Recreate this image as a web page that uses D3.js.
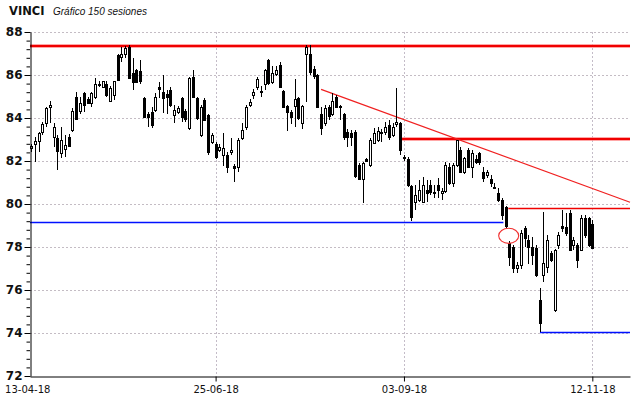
<!DOCTYPE html>
<html>
  <head>
    <meta charset="utf-8">
    <script src="https://cdn.jsdelivr.net/npm/d3@7"></script>
    <style>
      body { margin: 0; background: #fff; }
    </style>
  </head>
  <body>
    <script>

      // daily sessions (150)
      var opens = [82.6,82.8,82.95,83.35,83.75,84.5,83.13,83.05,82.35,82.55,83.13,83.44,85.0,84.34,85.15,84.9,84.68,84.96,85.6,85.46,
        85.57,84.79,85.07,86.93,86.85,87.0,87.3,86.08,86.23,86.2,84.93,84.2,84.3,84.37,85.46,85.22,85.1,85.3,84.14,84.29,
        84.91,84.33,83.52,85.92,84.91,83.21,84.84,84.14,82.9,82.79,82.51,82.28,82.28,82.4,81.77,81.74,83.06,83.6,84.6,85.07,
        85.46,85.19,85.58,86.7,85.69,86.05,86.47,85.27,84.56,84.29,84.56,84.91,83.75,86.98,87.0,86.3,86.0,84.2,83.75,84.5,
        84.2,84.99,84.55,84.2,83.35,83.3,83.35,81.8,81.15,82.1,81.8,82.85,83.0,83.36,83.36,83.67,83.2,83.7,83.75,82.2,
        82.1,80.84,80.1,80.19,80.11,80.65,80.88,80.5,80.88,80.5,80.6,81.74,81.0,81.81,82.51,81.5,82.51,81.74,82.1,82.36,
        81.5,81.35,81.15,80.81,80.5,80.19,79.88,78.17,78.02,77.01,77.16,78.87,78.33,78.02,77.94,75.53,76.7,77.09,77.71,75.07,
        78.09,78.98,78.95,79.57,78.09,78.09,77.86,79.33,79.33,79.05];
      var highs = [82.8,83.1,83.36,83.83,84.53,84.8,83.75,83.2,83.57,83.2,83.25,84.45,85.2,85.0,85.2,85.0,85.23,85.84,85.7,85.74,
        85.74,85.5,85.74,87.0,87.3,87.35,87.4,86.78,86.3,86.7,85.0,84.3,84.53,85.15,85.69,86.0,85.3,85.46,84.6,84.55,
        85.0,84.4,85.92,86.23,85.0,84.6,84.93,84.2,83.3,82.9,82.8,83.3,82.4,83.06,81.85,83.06,83.75,84.6,84.9,85.35,
        85.9,85.5,86.3,86.75,86.4,86.4,86.6,85.3,84.6,84.35,85.8,85.0,84.6,87.4,87.4,86.4,86.05,84.5,84.6,84.6,
        85.15,85.05,84.6,84.25,83.5,83.45,83.45,81.9,81.95,82.15,83.05,83.55,83.6,83.5,83.8,83.9,83.75,85.38,83.8,82.3,
        82.2,80.9,80.88,81.12,81.27,81.12,81.12,80.88,81.19,80.73,81.97,81.9,81.89,83.0,82.67,82.2,82.6,82.51,82.3,82.43,
        81.74,81.58,81.35,81.0,80.73,80.26,79.9,78.3,78.1,77.3,78.8,79.0,78.56,78.48,78.1,76.08,79.64,78.56,77.8,77.9,
        78.7,79.72,79.57,79.72,78.48,78.2,79.49,79.49,79.4,79.26];
      var lows = [82.4,81.97,82.43,83.2,83.6,83.75,82.66,81.6,82.12,82.2,82.65,83.36,83.9,84.2,84.3,84.7,84.53,84.9,85.45,85.4,
        85.0,84.75,84.85,85.7,86.6,86.8,85.8,85.3,85.62,85.6,84.0,83.6,83.52,84.29,84.91,84.22,84.2,84.53,83.75,84.2,
        83.83,83.8,83.45,84.95,83.9,83.1,83.85,82.3,82.8,82.1,82.4,81.75,81.45,82.3,81.04,81.5,83.0,83.44,84.53,84.9,
        85.3,85.0,85.3,85.55,85.6,85.95,85.4,84.5,83.4,83.7,83.6,83.9,83.5,84.76,86.0,85.8,84.5,83.2,83.65,83.9,
        84.1,84.45,83.9,83.0,82.65,82.7,81.2,81.1,80.05,81.95,81.7,82.8,82.9,82.9,83.2,83.0,83.1,83.6,82.3,82.0,
        80.8,79.2,79.72,80.1,80.1,80.11,80.4,80.3,80.26,80.19,80.5,80.9,80.8,81.7,81.46,81.4,81.7,81.19,81.85,81.8,
        81.04,81.19,80.8,80.7,80.11,79.26,78.9,77.1,76.8,76.8,77.0,78.0,77.2,77.16,76.6,74.06,76.39,76.78,77.3,74.99,
        77.9,78.71,78.5,77.86,77.86,77.01,77.8,78.4,78.0,77.94];
      var closes = [82.7,82.95,83.3,83.7,84.48,84.6,83.57,82.48,83.0,82.75,82.7,84.34,83.95,84.7,84.6,84.72,85.15,85.57,85.53,85.7,
        85.07,85.38,85.7,85.75,87.0,87.24,85.85,85.69,85.69,85.7,84.06,84.06,83.67,84.99,85.33,84.91,85.0,84.6,84.37,84.45,
        84.06,83.94,85.85,84.99,83.98,84.53,83.91,82.4,83.21,82.17,82.64,82.59,81.74,82.5,81.66,82.98,83.44,84.53,84.76,85.22,
        85.8,85.27,86.23,85.61,86.08,86.23,85.46,84.53,84.29,84.06,84.87,83.98,84.56,87.32,86.16,85.95,84.53,83.55,84.45,84.1,
        84.8,84.5,84.5,83.13,83.13,83.1,81.3,81.15,81.9,82.0,82.98,83.29,83.4,83.29,83.6,83.13,83.6,83.8,82.51,82.12,
        80.9,79.4,80.42,80.65,80.88,80.5,80.57,80.57,80.65,80.6,81.81,80.96,81.81,82.98,81.5,82.12,81.74,82.36,81.95,81.97,
        81.19,81.5,80.96,80.78,80.19,79.49,78.98,77.55,77.01,77.16,78.64,78.4,78.02,77.63,76.7,74.45,77.24,78.33,77.4,77.86,
        78.56,78.87,78.64,77.86,78.33,77.4,79.33,78.56,78.09,77.97];

      // axis labels
      var dateLabels = ["13-04-18", "25-06-18", "03-09-18", "12-11-18"];
      var dateIdx = [-1, 49, 99, 149];
      var priceTicks = [72, 74, 76, 78, 80, 82, 84, 86, 88];

      // drawn levels: price, first session, last session
      var redLevels = [87.35, 83.02, 79.8];
      var redFrom = [-0.27, 98.4, 126.7];
      var blueLevels = [79.15, 74.03];
      var blueFrom = [-0.27, 135.1];
      var blueTo = [125.4, 159];
      // trend line (session, price) and circle marker
      var trendIdx = [77, 159];
      var trendPrice = [85.33, 80.08];
      var markIdx = 126.8, markPrice = 78.52, markRx = 2.66, markRy = 0.35;

      var W = 640, H = 398;
      var plotL = 30, plotR = 630, plotT = 32, plotB = 376;

      var svg = d3.select("body")
        .append("svg")
        .attr("width", W)
        .attr("height", H)
        .style("font-family", "'DejaVu Sans', sans-serif");

      var x = d3.scaleLinear()
        .domain([-0.265, 159])
        .range([plotL, plotR]);

      var y = d3.scaleLinear()
        .domain([72, 88])
        .range([plotB, plotT]);

      // title
      svg.append("text")
        .attr("x", 9)
        .attr("y", 15)
        .style("font-size", "11.5px")
        .style("font-weight", "bold")
        .attr("fill", "#111")
        .text("VINCI");
      svg.append("text")
        .attr("x", 53)
        .attr("y", 15)
        .style("font-family", "'Liberation Sans', Arial, sans-serif")
        .style("font-size", "10px")
        .style("font-style", "italic")
        .attr("fill", "#111")
        .text("Gráfico 150 sesiones");

      // dotted grid
      svg.selectAll(".hgrid")
        .data(priceTicks.filter(function(d) { return d > 72; }))
        .enter()
        .append("line")
        .attr("x1", plotL)
        .attr("x2", plotR)
        .attr("y1", function(d) { return Math.round(y(d)) + 0.5; })
        .attr("y2", function(d) { return Math.round(y(d)) + 0.5; })
        .attr("stroke", "#c4bcc4")
        .attr("stroke-dasharray", "2,2");

      svg.selectAll(".vgrid")
        .data(dateIdx.slice(1))
        .enter()
        .append("line")
        .attr("x1", function(d) { return Math.round(x(d)) + 0.5; })
        .attr("x2", function(d) { return Math.round(x(d)) + 0.5; })
        .attr("y1", plotT)
        .attr("y2", plotB)
        .attr("stroke", "#c4bcc8")
        .attr("stroke-dasharray", "2,2");

      // levels
      var red = svg.append("g");
      redLevels.forEach(function(p, k) {
        var yy = y(p);
        if (k < 2) {
          red.append("line")
            .attr("x1", x(redFrom[k])).attr("x2", plotR)
            .attr("y1", yy).attr("y2", yy)
            .attr("stroke", "#ff8a8a").attr("stroke-width", 3.6);
          red.append("line")
            .attr("x1", x(redFrom[k])).attr("x2", plotR)
            .attr("y1", yy).attr("y2", yy)
            .attr("stroke", "#f00000").attr("stroke-width", 2);
        } else {
          red.append("line")
            .attr("x1", x(redFrom[k])).attr("x2", plotR)
            .attr("y1", Math.round(yy) + 0.5).attr("y2", Math.round(yy) + 0.5)
            .attr("stroke", "#f00000").attr("stroke-width", 1.3);
        }
      });

      blueLevels.forEach(function(p, k) {
        svg.append("line")
          .attr("x1", x(blueFrom[k])).attr("x2", x(blueTo[k]))
          .attr("y1", Math.round(y(p)) + 0.5).attr("y2", Math.round(y(p)) + 0.5)
          .attr("stroke", "#0010ff").attr("stroke-width", 1.3);
      });

      svg.append("line")
        .attr("x1", x(trendIdx[0])).attr("y1", y(trendPrice[0]))
        .attr("x2", x(trendIdx[1])).attr("y2", y(trendPrice[1]))
        .attr("stroke", "#f02020").attr("stroke-width", 1.2);

      // candles
      var idx = d3.range(opens.length);
      var candles = svg.append("g");

      candles.selectAll(".wick")
        .data(idx)
        .enter()
        .append("line")
        .attr("x1", function(i) { return Math.round(x(i)) + 0.5; })
        .attr("x2", function(i) { return Math.round(x(i)) + 0.5; })
        .attr("y1", function(i) { return Math.round(y(highs[i])); })
        .attr("y2", function(i) { return Math.round(y(lows[i])); })
        .attr("stroke", "#000");

      candles.selectAll(".body")
        .data(idx)
        .enter()
        .append("rect")
        .attr("x", function(i) { return Math.round(x(i)) - 0.5; })
        .attr("width", 2)
        .attr("y", function(i) { return Math.round(y(Math.max(opens[i], closes[i]))) + 0.5; })
        .attr("height", function(i) {
          return Math.max(1, Math.round(y(Math.min(opens[i], closes[i]))) - Math.round(y(Math.max(opens[i], closes[i]))));
        })
        .attr("fill", function(i) { return closes[i] >= opens[i] ? "#fff" : "#000"; })
        .attr("stroke", "#000");

      // circle marker
      svg.append("ellipse")
        .attr("cx", x(markIdx))
        .attr("cy", y(markPrice))
        .attr("rx", x(markIdx + markRx) - x(markIdx))
        .attr("ry", y(markPrice - markRy) - y(markPrice))
        .attr("fill", "none")
        .attr("stroke", "#f03030")
        .attr("stroke-width", 1.1);

      // y axis, minor then major ticks
      svg.append("g")
        .attr("transform", "translate(" + plotL + ",0)")
        .call(d3.axisLeft(y).tickValues(d3.range(72, 88.01, 0.4)).tickSize(3.5).tickSizeOuter(0).tickFormat(""))
        .call(function(g) { g.select(".domain").remove(); });

      var yAxis = svg.append("g")
        .attr("transform", "translate(" + (plotL + 0.5) + ",0)")
        .call(d3.axisLeft(y).tickValues(priceTicks).tickSize(6).tickSizeOuter(0).tickPadding(2));
      yAxis.selectAll("text")
        .style("font-family", "'DejaVu Sans', sans-serif")
        .style("font-size", "12px")
        .style("font-weight", "bold")
        .attr("fill", "#111");
      yAxis.selectAll("line, path").attr("stroke", "#000");

      // x axis
      var xAxis = svg.append("g")
        .attr("transform", "translate(0," + (plotB + 0.5) + ")")
        .call(d3.axisBottom(x)
          .tickValues(dateIdx)
          .tickSize(5)
          .tickSizeOuter(0)
          .tickPadding(4)
          .tickFormat(function(d, i) { return dateLabels[i]; }));
      xAxis.selectAll("text")
        .style("font-family", "'DejaVu Sans', sans-serif")
        .style("font-size", "10px")
        .attr("fill", "#111");
      xAxis.selectAll("line, path").attr("stroke", "#000");
      xAxis.selectAll(".tick line").filter(function(d) { return d < 0; }).remove();

    </script>
  </body>
</html>
